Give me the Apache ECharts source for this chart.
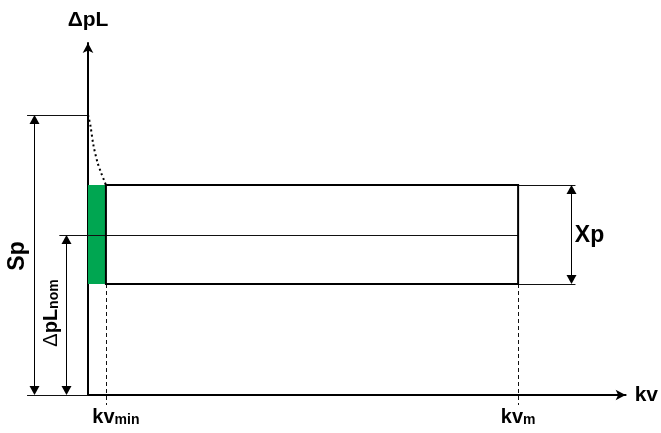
<!DOCTYPE html>
<html><head><meta charset="utf-8">
<script src="https://cdn.jsdelivr.net/npm/echarts@6/dist/echarts.min.js"></script>
<style>html,body{margin:0;padding:0;background:#fff}#c{width:661px;height:433px}</style>
</head><body><div id="c"></div>
<script>
// ---- data (schematic values) ----
const kvMin = 1;                 // kv_min
const kvM = 24;                  // kv_m
const dpNom = 40;                // ΔpL_nom
const xpBand = [27.75, 52.5];    // Xp band (low, high)
const sp = 70;                   // Sp
const curveX = [0, 0.13, 0.3, 0.52, 0.71, 0.93, 1];
const curveY = [70, 67.5, 62.5, 58.3, 55.8, 53.3, 52.5];
const tickValues = [kvMin, kvM];
const tickLabels = ['kv{s|min}', 'kv{s|m}'];
const axisNames = ['kv', 'ΔpL'];

// ---- layout ----
const xMax = 30, yMax = 88;
const spArrowX = -3, nomArrowX = -1.22, xpArrowX = 26.94;
const dimLeft = -3.4, nomLeft = -1.6, xpRight = 27.2, dashBottom = -2.5;
const FONT = '"Liberation Sans", Arial, sans-serif';
const GREEN = '#00a651';

const chart = echarts.init(document.getElementById('c'));
const px = v => Math.round(v) + 0.5;

function segRender(params, api) {
  const a = api.coord([api.value(0), api.value(1)]);
  const b = api.coord([api.value(2), api.value(3)]);
  const dashed = api.value(4) === 1;
  const horiz = Math.abs(a[1] - b[1]) < 0.5;
  const x1 = horiz ? a[0] : px(a[0]), x2 = horiz ? b[0] : px(b[0]);
  const y1 = horiz ? px(a[1]) : a[1], y2 = horiz ? px(b[1]) : b[1];
  return {type: 'line', shape: {x1, y1, x2, y2},
    style: {stroke: '#111', lineWidth: 1, lineDash: dashed ? [4, 3] : null}};
}
function dimRender(params, api) {
  const top = api.coord([api.value(0), api.value(2)]);
  const bot = api.coord([api.value(0), api.value(1)]);
  const x = px(top[0]), L = 9, W = 5;
  return {type: 'group', children: [
    {type: 'line', shape: {x1: x, y1: top[1] + 2, x2: x, y2: bot[1] - 2}, style: {stroke: '#000', lineWidth: 1}},
    {type: 'polygon', shape: {points: [[x, top[1]], [x - W, top[1] + L], [x + W, top[1] + L]]}, style: {fill: '#000'}},
    {type: 'polygon', shape: {points: [[x, bot[1]], [x - W, bot[1] - L], [x + W, bot[1] - L]]}, style: {fill: '#000'}}
  ]};
}

const option = {
  animation: false,
  grid: {left: 88, right: 661 - 88 - 18 * xMax, top: 395 - 4 * yMax, bottom: 38},
  xAxis: {type: 'value', min: 0, max: xMax, name: axisNames[0], nameLocation: 'end', nameGap: 9,
    nameTextStyle: {fontFamily: FONT, fontWeight: 'bold', fontSize: 21, color: '#000', verticalAlign: 'middle'},
    axisLine: {show: true, onZero: false, symbol: ['none', 'arrow'], symbolSize: [8, 10], lineStyle: {color: '#000', width: 2}},
    axisTick: {show: false}, axisLabel: {show: false}, splitLine: {show: false}},
  yAxis: {type: 'value', min: 0, max: yMax, name: axisNames[1], nameLocation: 'end', nameGap: 12,
    nameTextStyle: {fontFamily: FONT, fontWeight: 'bold', fontSize: 21, color: '#000', align: 'center'},
    axisLine: {show: true, onZero: false, symbol: ['none', 'arrow'], symbolSize: [8, 10], lineStyle: {color: '#000', width: 2}},
    axisTick: {show: false}, axisLabel: {show: false}, splitLine: {show: false}},
  series: [
    {type: 'custom', clip: false, z: 1, data: [[0, xpBand[0], kvMin, xpBand[1]]],
      renderItem: (p, api) => {
        const a = api.coord([api.value(0), api.value(3)]), b = api.coord([api.value(2), api.value(1)]);
        return {type: 'rect', shape: {x: a[0], y: a[1], width: b[0] - a[0], height: b[1] - a[1]}, style: {fill: GREEN}};
      }},
    {type: 'custom', clip: false, z: 2, data: [
        [nomLeft, dpNom, kvM, dpNom, 0],
        [dimLeft, sp, 0, sp, 0],
        [dimLeft, 0, 0, 0, 0],
        [kvM, xpBand[1], xpRight, xpBand[1], 0],
        [kvM, xpBand[0], xpRight, xpBand[0], 0],
        [kvMin, xpBand[0], kvMin, dashBottom, 1],
        [kvM, xpBand[0], kvM, dashBottom, 1]
      ], renderItem: segRender},
    {type: 'custom', clip: false, z: 3, data: [[kvMin, xpBand[0], kvM, xpBand[1]]],
      renderItem: (p, api) => {
        const a = api.coord([api.value(0), api.value(3)]), b = api.coord([api.value(2), api.value(1)]);
        return {type: 'rect', shape: {x: a[0], y: a[1], width: b[0] - a[0], height: b[1] - a[1]},
          style: {fill: null, stroke: '#000', lineWidth: 2}};
      }},
    {type: 'line', clip: false, z: 3, smooth: 0.3, symbol: 'none',
      data: curveX.map((x, i) => [x, curveY[i]]),
      lineStyle: {color: '#000', width: 2, type: [2, 3]}},
    {type: 'custom', clip: false, z: 4, data: [[spArrowX, 0, sp], [nomArrowX, 0, dpNom], [xpArrowX, xpBand[0], xpBand[1]]],
      renderItem: dimRender},
    {type: 'custom', clip: false, z: 5, data: [[kvMin, 0], [kvM, 1]],
      renderItem: (p, api) => {
        const i = api.value(1);
        const c = api.coord([tickValues[i], 0]);
        return {type: 'text', x: c[0] + (i === 0 ? 10 : 0), y: c[1] + 22,
          style: {text: tickLabels[i], fontFamily: FONT, fontWeight: 'bold', fontSize: 20, fill: '#000',
            align: 'center', verticalAlign: 'middle',
            rich: {s: {fontFamily: FONT, fontWeight: 'bold', fontSize: 14, fill: '#000', padding: [6, 0, 0, 0]}}}};
      }},
    {type: 'custom', clip: false, z: 5, data: [[0]],
      renderItem: (p, api) => {
        const spC = api.coord([spArrowX, sp / 2]);
        const nomC = api.coord([nomArrowX, dpNom / 2]);
        const xpC = api.coord([xpArrowX, (xpBand[0] + xpBand[1]) / 2]);
        return {type: 'group', children: [
          {type: 'text', x: spC[0] - 17, y: spC[1] + 1, rotation: Math.PI / 2,
            style: {text: 'Sp', fontFamily: FONT, fontWeight: 'bold', fontSize: 23, fill: '#000', align: 'center', verticalAlign: 'middle'}},
          {type: 'text', x: nomC[0] - 15, y: nomC[1] - 2, rotation: Math.PI / 2,
            style: {text: '{d|Δ}pL{s|nom}', fontFamily: FONT, fontWeight: 'bold', fontSize: 20, fill: '#000', align: 'center', verticalAlign: 'middle',
              rich: {d: {fontFamily: FONT, fontWeight: 'normal', fontSize: 20, fill: '#000'},
                     s: {fontFamily: FONT, fontWeight: 'bold', fontSize: 14, fill: '#000', padding: [6, 0, 0, 0]}}}},
          {type: 'text', x: xpC[0] + 4, y: xpC[1] + 1,
            style: {text: 'Xp', fontFamily: FONT, fontWeight: 'bold', fontSize: 23, fill: '#000', align: 'left', verticalAlign: 'middle'}}
        ]};
      }}
  ]
};
chart.setOption(option);
</script></body></html>
